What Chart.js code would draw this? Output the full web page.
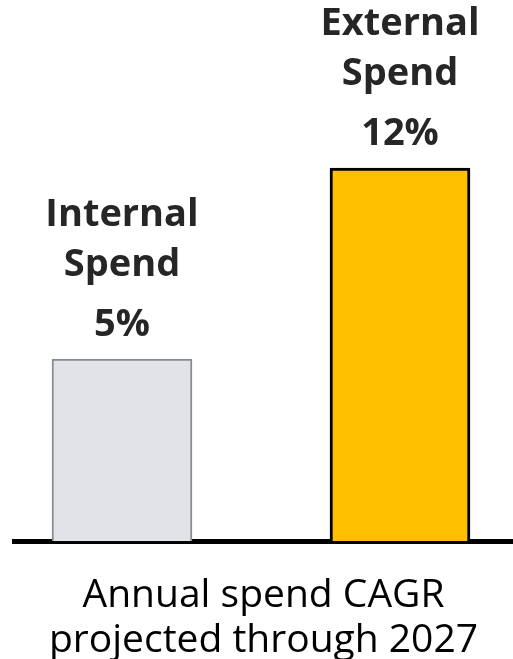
<!DOCTYPE html>
<html>
<head>
<meta charset="utf-8">
<script src="https://cdn.jsdelivr.net/npm/chart.js@4/dist/chart.umd.min.js"></script>
<style>
  html, body { margin: 0; padding: 0; background: #fff; }
  #wrap { width: 513px; height: 659px; }
</style>
</head>
<body>
<div id="wrap"><canvas id="cagrChart"></canvas></div>
<script>
// Spend categories (two-line names) and their projected CAGR, in percent
const categories = [['Internal', 'Spend'], ['External', 'Spend']];
const cagrValues = [5, 12];
const axisTitle = ['Annual spend CAGR', 'projected through 2027'];

const barColors = ['#e1e3e8', '#ffc000'];
const barBorders = ['#8c8c8c', '#000000'];

// bars grow from this floor instead of zero
const Y_FLOOR = -1.67;
const FONT = 'Open Sans';

// name + value stacked above each bar
const barLabels = {
    id: 'barLabels',
    afterDatasetsDraw(chart) {
        const ctx = chart.ctx;
        const meta = chart.getDatasetMeta(0);
        ctx.save();
        ctx.textAlign = 'center';
        ctx.textBaseline = 'alphabetic';
        ctx.fillStyle = '#262626';
        ctx.font = `bold 38px "${FONT}"`;
        meta.data.forEach((bar, i) => {
            ctx.fillText(cagrValues[i] + '%', bar.x, bar.y - 23);
            ctx.fillText(categories[i][1], bar.x, bar.y - 83);
            ctx.fillText(categories[i][0], bar.x, bar.y - 133);
        });
        ctx.restore();
    }
};

const ctx = document.getElementById('cagrChart').getContext('2d');
new Chart(ctx, {
    type: 'bar',
    data: {
        datasets: [{
            data: cagrValues.map((v, i) => ({ x: i, y: v })),
            backgroundColor: barColors,
            borderColor: barBorders,
            borderWidth: [2, 3],
            base: Y_FLOOR,
            barThickness: 140
        }]
    },
    options: {
        responsive: true,
        maintainAspectRatio: false,
        animation: false,
        layout: { padding: { left: 14, top: 0, right: 0, bottom: 2 } },
        plugins: {
            legend: { display: false },
            tooltip: { enabled: false }
        },
        scales: {
            x: {
                type: 'linear',
                offset: false,
                min: -0.3885,
                max: 1.4065,
                ticks: { display: false },
                grid: { display: false },
                border: { display: true, color: '#000', width: 5 },
                title: {
                    display: true,
                    text: axisTitle,
                    color: '#000',
                    font: { family: FONT, size: 39, lineHeight: 1.15 },
                    padding: { top: 24, bottom: -6 }
                }
            },
            y: {
                display: false,
                min: Y_FLOOR,
                max: 18.15
            }
        }
    },
    plugins: [barLabels]
});
</script>
</body>
</html>
